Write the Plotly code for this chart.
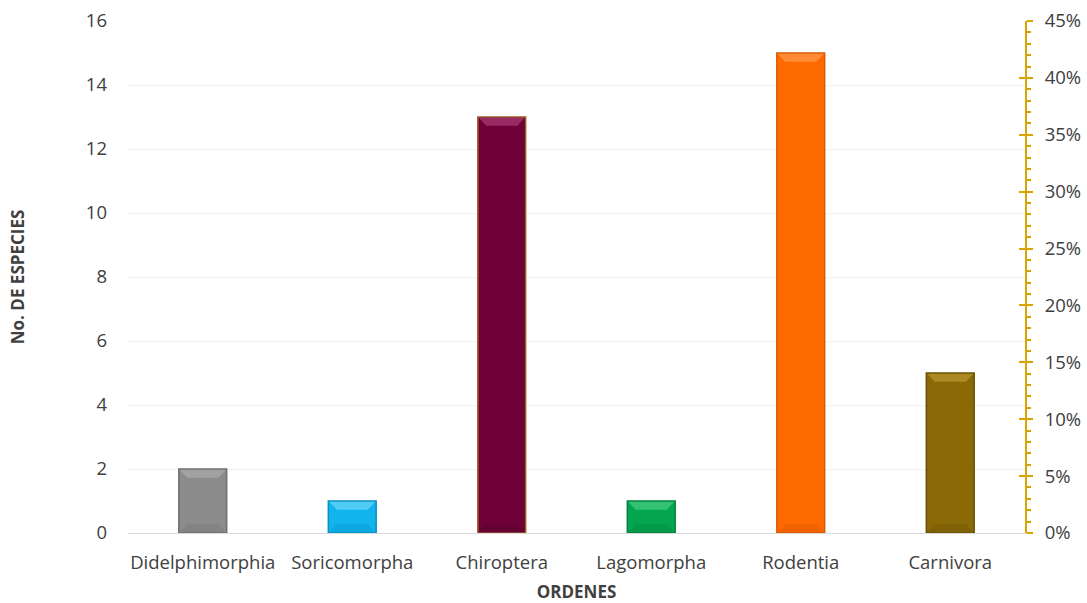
import plotly.graph_objects as go

ordenes = ["Didelphimorphia", "Soricomorpha", "Chiroptera", "Lagomorpha", "Rodentia", "Carnivora"]
especies = [2, 1, 13, 1, 15, 5]
colores = ["#8C8C8C", "#12B4EE", "#6E0238", "#03A64F", "#FF6A00", "#8A6A07"]
bordes = ["#6E6E6E", "#0A8FC0", "#A0602A", "#02823D", "#D95A00", "#6A5005"]
claros = ["#A6A6A6", "#5CCFF7", "#A0336B", "#3CC57A", "#FF9040", "#B08E2A"]
oscuros = ["#777777", "#0B9AD0", "#5A012D", "#028A41", "#E05C00", "#705505"]
left_ticks = [0, 2, 4, 6, 8, 10, 12, 14, 16]
pct_ticks = [0, 0.05, 0.10, 0.15, 0.20, 0.25, 0.30, 0.35, 0.40, 0.45]

gold = "#D9A300"
font = "Open Sans"
txt = "#404040"
bar_w = 0.32
fs = 18.5

fig = go.Figure()
fig.add_trace(go.Bar(
    x=ordenes, y=especies,
    marker=dict(color=colores, line=dict(color=bordes, width=1.5)),
    width=bar_w, showlegend=False, hoverinfo="x+y",
))
total = sum(especies)
share = [v / total for v in especies]
# hidden series on the percentage axis so it gets drawn
fig.add_trace(go.Scatter(
    x=ordenes, y=share, yaxis="y2",
    mode="markers", marker=dict(opacity=0), showlegend=False, hoverinfo="skip",
))
# extra overlay axis for the inward half of the major ticks
fig.add_trace(go.Scatter(
    x=ordenes, y=share, yaxis="y3",
    mode="markers", marker=dict(opacity=0), showlegend=False, hoverinfo="skip",
))

# bevel highlights on each bar (top lighter, bottom darker)
dx = 0.05
dy = 0.25
shapes = []
for i, v in enumerate(especies):
    x0, x1 = i - bar_w / 2 + 0.006, i + bar_w / 2 - 0.006
    top = v - 0.02
    shapes.append(dict(
        type="path", xref="x", yref="y", layer="above", line=dict(width=0),
        fillcolor=claros[i], opacity=0.85,
        path=f"M {x0} {top} L {x1} {top} L {x1 - dx} {top - dy} L {x0 + dx} {top - dy} Z",
    ))
    shapes.append(dict(
        type="path", xref="x", yref="y", layer="above", line=dict(width=0),
        fillcolor=oscuros[i], opacity=0.45,
        path=f"M {x0} 0.02 L {x1} 0.02 L {x1 - dx} {0.02 + dy} L {x0 + dx} {0.02 + dy} Z",
    ))

fig.update_layout(
    width=1087, height=603,
    margin=dict(l=128, r=62, t=21, b=70),
    paper_bgcolor="white", plot_bgcolor="white",
    font=dict(family=font, size=fs, color=txt),
    shapes=shapes,
    xaxis=dict(
        type="category", showgrid=False, showline=True, linecolor="#D9D9D9", linewidth=1,
        ticks="", tickfont=dict(size=fs, color=txt), ticklabelstandoff=13, automargin=False,
        title=dict(text="<b>ORDENES</b>", font=dict(size=17, color=txt), standoff=24),
    ),
    yaxis=dict(
        range=[0, 16], tickvals=left_ticks, showgrid=True, gridcolor="#F2F2F2", gridwidth=1,
        zeroline=False, showline=False, ticks="", ticklabelstandoff=20, automargin=False,
        tickfont=dict(size=fs, color=txt),
        title=dict(text="<b>No. DE ESPECIES</b>", font=dict(size=17, color=txt), standoff=56),
    ),
    yaxis2=dict(
        overlaying="y", side="right", range=[0, 0.45], tickvals=pct_ticks, tickformat=".0%",
        showgrid=False, zeroline=False, showline=True, linecolor=gold, linewidth=2,
        ticks="outside", ticklen=6, tickwidth=2, tickcolor=gold, automargin=False,
        minor=dict(dtick=0.01, ticks="outside", ticklen=4, tickwidth=2, tickcolor=gold),
        tickfont=dict(size=fs, color=txt), ticklabelstandoff=8,
    ),
    yaxis3=dict(
        overlaying="y", side="right", range=[0, 0.45], tickvals=pct_ticks,
        showticklabels=False, showgrid=False, zeroline=False, showline=False, automargin=False,
        ticks="inside", ticklen=6, tickwidth=2, tickcolor=gold,
    ),
)

fig.write_html("out.html")
